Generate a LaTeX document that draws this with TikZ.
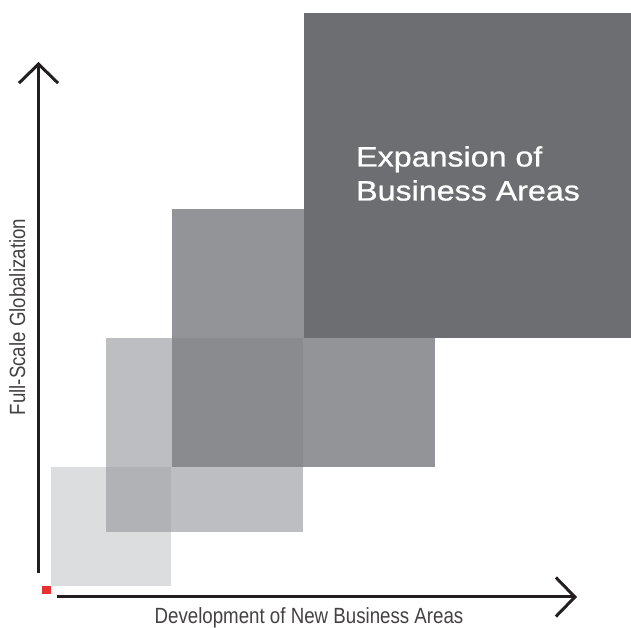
\documentclass[tikz,border=0pt]{standalone}
\usepackage{fontspec}
\setmainfont{Liberation Sans}
\newfontfamily\narrowfont[FakeStretch=0.85]{Liberation Sans}
\newfontfamily\widefont[FakeStretch=1.15,FakeBold=0.8]{Liberation Sans}
\usepackage{tikz}
\usetikzlibrary{arrows.meta}
\definecolor{boxA}{HTML}{DCDDDF}
\definecolor{boxB}{HTML}{BDBEC1}
\definecolor{boxAB}{HTML}{B1B2B5}
\definecolor{boxC}{HTML}{939498}
\definecolor{boxBC}{HTML}{8A8B8F}
\definecolor{boxD}{HTML}{6D6E72}
\definecolor{origincol}{HTML}{E8312F}
\definecolor{axisline}{HTML}{231F20}

\begin{document}
\begin{tikzpicture}[x=1pt,y=1pt,
    axis/.style={draw=axisline,line width=3pt,-{Straight Barb[length=19pt,width=39pt,line width=3pt]}},
    axislabel/.style={text=axisline!85,inner sep=0pt,font=\narrowfont\fontsize{22}{26}\selectfont},
    title/.style={text=white,inner sep=0pt,align=left,font=\widefont\fontsize{28}{34}\selectfont}]
    \useasboundingbox (0,0) rectangle (631,628);
    \fill[boxA] (51,42) rectangle (171,161);
    \fill[boxB] (106,96) rectangle (303,290);
    \fill[boxAB] (106,96) rectangle (171,161);
    \fill[boxC] (172,161) rectangle (435,419);
    \fill[boxBC] (172,161) rectangle (303,290);
    \fill[boxD] (304,290) rectangle (631,615);
    \fill[origincol] (42,34) rectangle (51,42);
    \coordinate (ybottom) at (38.5,55);
    \coordinate (ytop) at (38.5,566);
    \coordinate (xleft) at (57,31);
    \coordinate (xright) at (577,31);
    \draw[axis] (ybottom) -- (ytop);
    \draw[axis] (xleft) -- (xright);
    \node[axislabel,anchor=base] (xlabel) at (309,4) {Development of New Business Areas};
    \node[axislabel,anchor=base,rotate=90] (ylabel) at (25,311) {Full-Scale Globalization};
    \node[title,anchor=north west] (expansion) at (356,482) {Expansion of\\Business Areas};
\end{tikzpicture}
\end{document}
